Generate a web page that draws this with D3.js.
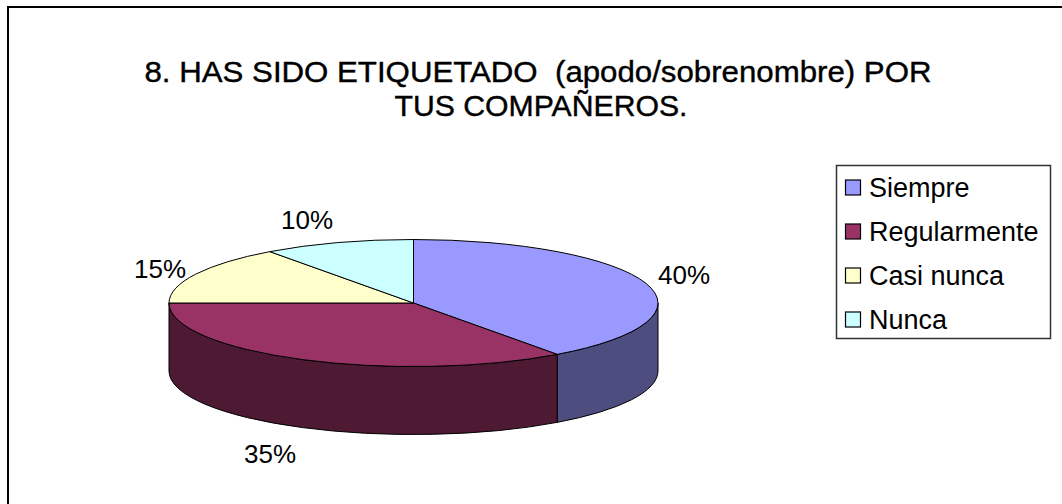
<!DOCTYPE html>
<html>
<head>
<meta charset="utf-8">
<script src="https://cdn.jsdelivr.net/npm/d3@7"></script>
<style>
  body { margin: 0; background: #fff; }
  text { font-family: Arial, "Liberation Sans", sans-serif; fill: #000; }
</style>
</head>
<body>
<svg id="svg1" width="1062" height="504"></svg>
<script>
// datos
var categorias = ["Siempre", "Regularmente", "Casi nunca", "Nunca"];
var valores = [40, 35, 15, 10];
var etiquetas = ["40%", "35%", "15%", "10%"];
var titulo = ["8. HAS SIDO ETIQUETADO  (apodo/sobrenombre) POR", "TUS COMPAÑEROS."];

var colores = ["#9999FF", "#993366", "#FFFFCC", "#CCFFFF"];
var coloresLado = ["#4D4D80", "#4D1933", "#80806A", "#6A8080"];

var svg = d3.select("#svg1");

// marco exterior
svg.append("rect")
  .attr("x", 8).attr("y", 7)
  .attr("width", 1100).attr("height", 600)
  .attr("fill", "none")
  .attr("stroke", "#000")
  .attr("stroke-width", 2);

// titulo
svg.append("text").attr("x", 538).attr("y", 82)
  .attr("text-anchor", "middle").attr("font-size", 29)
  .attr("textLength", 787).attr("lengthAdjust", "spacingAndGlyphs")
  .attr("stroke", "#000").attr("stroke-width", 0.4)
  .attr("xml:space", "preserve")
  .text(titulo[0]);
svg.append("text").attr("x", 541).attr("y", 116)
  .attr("text-anchor", "middle").attr("font-size", 29)
  .attr("textLength", 293).attr("lengthAdjust", "spacingAndGlyphs")
  .attr("stroke", "#000").attr("stroke-width", 0.4)
  .text(titulo[1]);

// pastel 3D
var cx = 413.5, cy = 303, rx = 244.5, ry = 63.5, prof = 68;
var pie = d3.pie().sort(null).value(function(d) { return d; });
var arcos = pie(valores);

function pt(a, dy) {
  return [cx + rx * Math.sin(a), cy - ry * Math.cos(a) + (dy || 0)];
}

var gPie = svg.append("g");

// lados (solo la parte frontal, entre PI/2 y 3PI/2)
arcos.forEach(function(d, i) {
  var a0 = Math.max(d.startAngle, Math.PI / 2);
  var a1 = Math.min(d.endAngle, 3 * Math.PI / 2);
  if (a1 <= a0) return;
  var p0 = pt(a0), p1 = pt(a1), q1 = pt(a1, prof), q0 = pt(a0, prof);
  var large = (a1 - a0) > Math.PI ? 1 : 0;
  var path = "M" + p0 + "A" + rx + "," + ry + " 0 " + large + " 1 " + p1 +
    "L" + q1 + "A" + rx + "," + ry + " 0 " + large + " 0 " + q0 + "Z";
  gPie.append("path")
    .attr("d", path)
    .attr("fill", coloresLado[i])
    .attr("stroke", "#000")
    .attr("stroke-width", 1);
});

// caras superiores
arcos.forEach(function(d, i) {
  var p0 = pt(d.startAngle), p1 = pt(d.endAngle);
  var large = (d.endAngle - d.startAngle) > Math.PI ? 1 : 0;
  var path = "M" + cx + "," + cy + "L" + p0 + "A" + rx + "," + ry + " 0 " + large + " 1 " + p1 + "Z";
  gPie.append("path")
    .attr("d", path)
    .attr("fill", colores[i])
    .attr("stroke", "#000")
    .attr("stroke-width", 1);
});

// etiquetas de porcentaje
var posEtiq = [[684, 284], [270, 463], [160, 278], [307, 229]];
etiquetas.forEach(function(t, i) {
  svg.append("text")
    .attr("x", posEtiq[i][0]).attr("y", posEtiq[i][1])
    .attr("text-anchor", "middle").attr("font-size", 26)
    .text(t);
});

// leyenda
svg.append("rect")
  .attr("x", 836.5).attr("y", 165.5)
  .attr("width", 214).attr("height", 173)
  .attr("fill", "#fff")
  .attr("stroke", "#333")
  .attr("stroke-width", 1.5);

var yLeyenda = d3.scalePoint().domain(categorias).range([188, 320]);
var gLey = svg.append("g");
categorias.forEach(function(c, i) {
  var y = yLeyenda(c);
  gLey.append("rect")
    .attr("x", 845.5).attr("y", y - 8)
    .attr("width", 15).attr("height", 15)
    .attr("fill", colores[i])
    .attr("stroke", "#000")
    .attr("stroke-width", 1.2);
  gLey.append("text")
    .attr("x", 869).attr("y", y + 9)
    .attr("font-size", 27)
    .text(c);
});
</script>
</body>
</html>
